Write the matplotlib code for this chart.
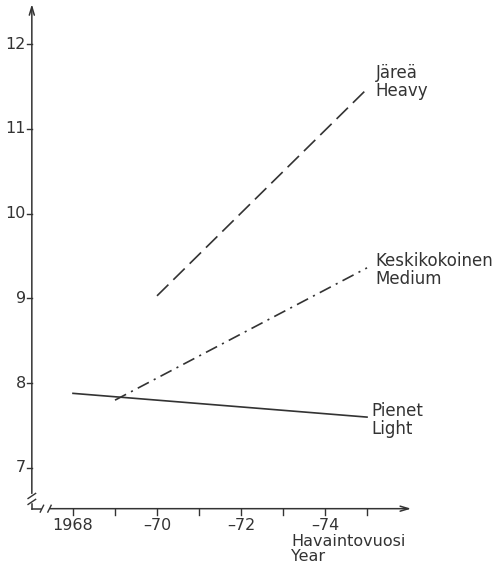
import matplotlib
matplotlib.use("Agg")
import matplotlib.pyplot as plt

# values
years_light = [1968, 1975]
light = [7.88, 7.60]
years_medium = [1969, 1975]
medium = [7.80, 9.36]
years_heavy = [1970, 1975]
heavy = [9.03, 11.47]

yticks = [7, 8, 9, 10, 11, 12]
xticks = [1968, 1970, 1972, 1974]
xticklabels = ["1968", "\u201370", "\u201372", "\u201374"]
minor_years = [1969, 1971, 1973, 1975]

plt.rcParams['font.family'] = ['DejaVu Sans']
plt.rcParams['lines.scale_dashes'] = False
ink = "#333333"

fig = plt.figure(figsize=(5.02, 5.71), dpi=100)
ax = fig.add_axes([0, 0, 1, 1])
ax.set_xlim(1966.262, 1978.214)
ax.set_ylim(5.785, 12.519)
ax.axis("off")

x0, y0 = 1967.02, 6.52   # axis corner
x_end, y_end = 1976.05, 12.47

# axes with arrows
ax.annotate("", xy=(x0, y_end), xytext=(x0, 6.70),
            arrowprops=dict(arrowstyle="->,head_length=0.6,head_width=0.18",
                            color=ink, lw=1.1, shrinkA=0, shrinkB=0))
ax.plot([x0, x0], [y0, 6.58], color=ink, lw=1.1)
ax.annotate("", xy=(x_end, y0), xytext=(1967.45, y0),
            arrowprops=dict(arrowstyle="->,head_length=0.6,head_width=0.18",
                            color=ink, lw=1.1, shrinkA=0, shrinkB=0))
ax.plot([x0, 1967.25], [y0, y0], color=ink, lw=1.1)

# break marks
for yy in (6.60, 6.67):
    ax.plot([x0 - 0.09, x0 + 0.09], [yy - 0.03, yy + 0.03], color=ink, lw=1.0)
for xx in (1967.26, 1967.44):
    ax.plot([xx - 0.04, xx + 0.04], [y0 - 0.04, y0 + 0.04], color=ink, lw=1.0)

# ticks
for v in yticks:
    ax.plot([x0 - 0.12, x0], [v, v], color=ink, lw=1.0)
    ax.text(x0 - 0.14, v, str(v), ha="right", va="center", fontsize=11.5, color=ink)
for v, lab in zip(xticks, xticklabels):
    ax.plot([v, v], [y0, y0 - 0.07], color=ink, lw=1.0)
    ax.text(v, y0 - 0.11, lab, ha="center", va="top", fontsize=11.5, color=ink)
for v in minor_years:
    ax.plot([v, v], [y0, y0 - 0.07], color=ink, lw=1.0)

ax.text(1973.2, 6.22, "Havaintovuosi\nYear", ha="left", va="top",
        fontsize=11.5, color=ink, linespacing=0.95)

# series
ax.plot(years_light, light, color=ink, lw=1.2)
ax.plot(years_medium, medium, color=ink, lw=1.2, linestyle=(0, (9, 4, 1.5, 4)))
ax.plot(years_heavy, heavy, color=ink, lw=1.2, linestyle=(0, (11.5, 5)))

ax.text(1975.2, 11.55, "Järeä\nHeavy", ha="left", va="center",
        fontsize=12, color=ink, linespacing=1.0)
ax.text(1975.2, 9.33, "Keskikokoinen\nMedium", ha="left", va="center",
        fontsize=12, color=ink, linespacing=1.0)
ax.text(1975.1, 7.57, "Pienet\nLight", ha="left", va="center",
        fontsize=12, color=ink, linespacing=1.0)

fig.savefig("out.png", dpi=100)
